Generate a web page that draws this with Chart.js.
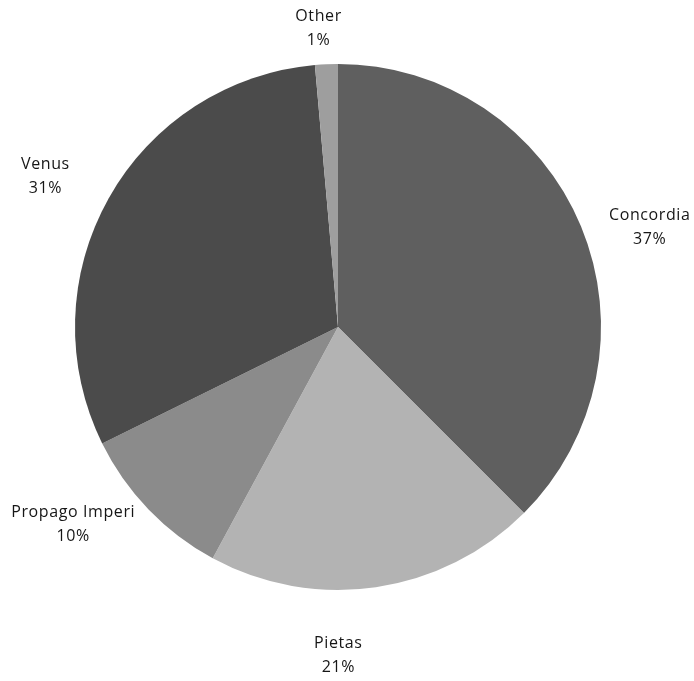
<!DOCTYPE html>
<html>
<head>
<meta charset="utf-8">
<script src="https://cdn.jsdelivr.net/npm/chart.js@4"></script>
<style>
  html, body { margin: 0; padding: 0; background: #ffffff; }
  #wrap { width: 694px; height: 681px; position: relative; }
</style>
</head>
<body>
<div id="wrap"><canvas id="c" width="694" height="681"></canvas></div>
<script>
const categories = ["Concordia", "Pietas", "Propago Imperi", "Venus", "Other"];
const shareValues = [37.5, 20.4, 9.8, 30.9, 1.4];
const percentLabels = ["37%", "21%", "10%", "31%", "1%"];

const sliceColors = ["#5f5f5f", "#b3b3b3", "#8b8b8b", "#4b4b4b", "#9e9e9e"];
// label placement: distance factor from centre plus small nudges (px)
const labelNudges = [[8, 26], [-47, 3], [-28, -31], [-6, 11], [-5, 30]];

const outsideLabels = {
  id: 'outsideLabels',
  afterDatasetsDraw(chart) {
    const ctx = chart.ctx;
    const meta = chart.getDatasetMeta(0);
    ctx.save();
    ctx.font = '16px "Open Sans", "DejaVu Sans", sans-serif';
    ctx.fillStyle = '#161616';
    ctx.textAlign = 'center';
    ctx.textBaseline = 'middle';
    try { ctx.letterSpacing = '0.6px'; } catch (e) {}
    meta.data.forEach((arc, i) => {
      const p = arc.getProps(['x', 'y', 'startAngle', 'endAngle', 'outerRadius'], true);
      const mid = (p.startAngle + p.endAngle) / 2;
      const r = p.outerRadius * 1.25;
      const cx = p.x + Math.cos(mid) * r + labelNudges[i][0];
      const cy = p.y + Math.sin(mid) * r + labelNudges[i][1];
      ctx.fillText(categories[i], cx, cy - 12);
      ctx.fillText(percentLabels[i], cx, cy + 12);
    });
    ctx.restore();
  }
};

new Chart(document.getElementById('c'), {
  type: 'pie',
  data: {
    labels: categories,
    datasets: [{
      data: shareValues,
      backgroundColor: sliceColors,
      borderWidth: 0
    }]
  },
  options: {
    responsive: false,
    animation: false,
    layout: { padding: { left: 75, right: 93, top: 64, bottom: 91 } },
    plugins: {
      legend: { display: false },
      tooltip: { enabled: false }
    }
  },
  plugins: [outsideLabels]
});
</script>
</body>
</html>
